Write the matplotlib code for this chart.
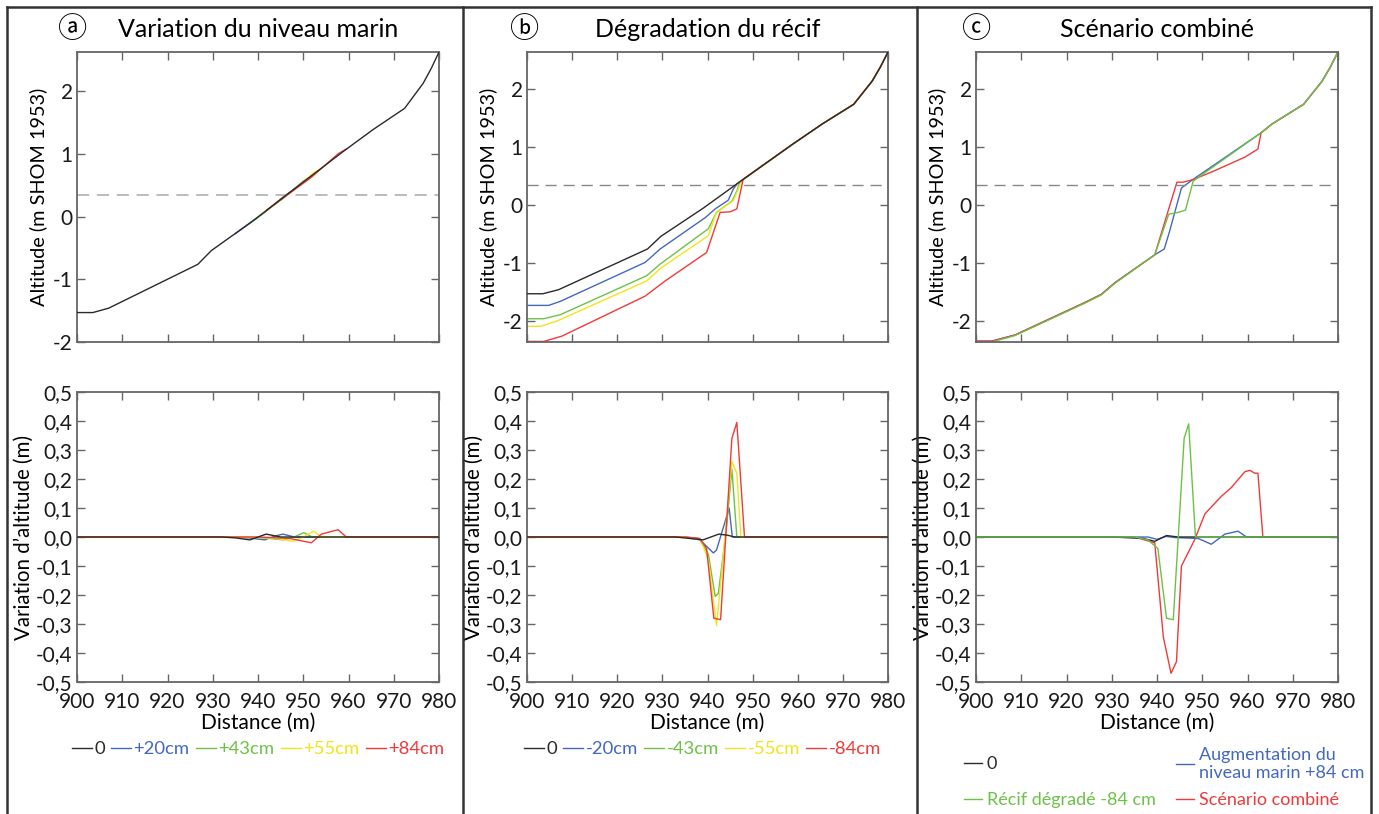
import matplotlib
matplotlib.use("Agg")
import matplotlib.pyplot as plt
from matplotlib.lines import Line2D

plt.rcParams['font.family'] = ['Lato', 'DejaVu Sans']

# ---------------- data ----------------
# Reference profile (panels a & b, black)
BASE_X = [900, 903.5, 907, 926.7, 929.7, 939, 946.5, 958.8, 965.4, 969.1, 972.4, 976.5, 978.3, 980]
BASE_Y = [-1.53, -1.53, -1.46, -0.76, -0.54, -0.06, 0.36, 1.04, 1.39, 1.57, 1.73, 2.13, 2.37, 2.63]
CREST_X = [958.8, 965.4, 969.1, 972.4, 976.5, 978.3, 980]
CREST_Y = [1.04, 1.39, 1.57, 1.73, 2.13, 2.37, 2.63]

# Panel a top: sea-level scenarios (deviate only slightly near the reef flat)
A_P20_X = [935, 941.5, 945.5, 948]
A_P20_Y = [-0.27, 0.07, 0.31, 0.44]
A_P43_X = [938, 945.5, 950.1, 952]
A_P43_Y = [-0.11, 0.29, 0.575, 0.66]
A_P55_X = [940, 947.7, 952.3, 954]
A_P55_Y = [0.0, 0.415, 0.70, 0.77]
A_P84_X = [942, 951.8, 957.7, 959.5]
A_P84_Y = [0.11, 0.63, 1.005, 1.08]

# Panel b top: reef degradation scenarios
B_M20_X = [900, 904.8, 907.4, 926.2, 929.5, 939.5, 941.7, 944.6, 945.7, 946.5]
B_M20_Y = [-1.73, -1.73, -1.66, -0.99, -0.76, -0.22, -0.07, 0.08, 0.27, 0.36]
B_M43_X = [900, 903.7, 907.4, 926.5, 929.5, 940.2, 942, 945.5, 946.5, 947.2]
B_M43_Y = [-1.96, -1.96, -1.89, -1.22, -1.02, -0.41, -0.13, 0.07, 0.24, 0.40]
B_M55_X = [900, 903, 906.6, 926.5, 929.8, 940.2, 942, 945.7, 946.7, 947.6]
B_M55_Y = [-2.09, -2.09, -2.0, -1.31, -1.08, -0.53, -0.12, 0.07, 0.25, 0.42]
B_M84_X = [900, 903.7, 907.7, 926.2, 930.6, 939.8, 942.8, 945, 946.5, 947.9]
B_M84_Y = [-2.35, -2.35, -2.26, -1.57, -1.31, -0.82, -0.13, -0.12, -0.07, 0.44]

# Panel c top: combined scenario
C_LOW_X = [900, 903.5, 908.6, 924.1, 927.7, 930.7, 939.5]
C_LOW_Y = [-2.345, -2.345, -2.24, -1.68, -1.54, -1.34, -0.86]
C_LOW_Y_REEF = [-2.36, -2.36, -2.25, -1.69, -1.55, -1.35, -0.86]
C_UP_X = [963, 965.4, 969.1, 972.4, 976.5, 978.3, 980]
C_UP_Y = [1.24, 1.39, 1.57, 1.73, 2.13, 2.37, 2.63]
C_SEA_X = [941.6, 942.8, 945.4, 948]
C_SEA_Y = [-0.76, -0.45, 0.29, 0.44]
C_REEF_X = [942.6, 944.7, 946.3, 948]
C_REEF_Y = [-0.16, -0.13, -0.09, 0.41]
C_COMB_X = [944.4, 945.8, 948.2, 952.8, 959.4, 962.3]
C_COMB_Y = [0.39, 0.39, 0.44, 0.59, 0.82, 0.96]

WATER_LEVEL = 0.35

# Bottom panels: altitude variation (m)
DA_0_X = [900, 932, 935, 938.2, 941.8, 945, 980]
DA_0_Y = [0, 0, -0.003, -0.01, 0.01, 0, 0]
DA_P20_X = [900, 934, 938, 941.5, 943.5, 945.5, 948, 980]
DA_P20_Y = [0, 0, -0.003, -0.01, 0.002, 0.01, 0, 0]
DA_P43_X = [900, 936, 942, 945.5, 948, 950.1, 952, 980]
DA_P43_Y = [0, 0, -0.004, -0.01, 0, 0.015, 0, 0]
DA_P55_X = [900, 938, 944, 947.7, 950, 952.3, 954, 980]
DA_P55_Y = [0, 0, -0.005, -0.015, 0, 0.02, 0, 0]
DA_P84_X = [900, 940, 947, 951.8, 954, 957.7, 959.5, 980]
DA_P84_Y = [0, 0, -0.005, -0.02, 0.01, 0.025, 0, 0]

DB_0_X = [900, 933, 939, 942.5, 944.5, 946, 980]
DB_0_Y = [0, 0, -0.01, 0.01, 0.006, 0, 0]
DB_M20_X = [900, 935, 938, 941.3, 942, 944.8, 945.5, 980]
DB_M20_Y = [0, 0, -0.005, -0.055, -0.045, 0.10, 0, 0]
DB_M43_X = [900, 935, 938.3, 940.2, 941.7, 942.4, 944.2, 945.4, 946.5, 980]
DB_M43_Y = [0, 0, -0.01, -0.06, -0.205, -0.195, 0.03, 0.235, 0, 0]
DB_M55_X = [900, 935, 938.5, 940.2, 942, 943.1, 945.4, 946.5, 947.4, 980]
DB_M55_Y = [0, 0, -0.01, -0.08, -0.305, -0.13, 0.26, 0.22, 0, 0]
DB_M84_X = [900, 935, 938.3, 939.8, 941.4, 942.9, 945.4, 946.5, 948.2, 980]
DB_M84_Y = [0, 0, -0.005, -0.04, -0.28, -0.285, 0.34, 0.395, 0, 0]

DC_0_X = [900, 930, 937, 939.5, 942.1, 944.7, 980]
DC_0_Y = [0, 0, -0.005, -0.015, 0.005, 0, 0]
DC_SEA_X = [900, 938, 940, 942, 944, 949.1, 952, 955, 957.9, 959.8, 980]
DC_SEA_Y = [0, 0, -0.008, 0.002, -0.002, -0.005, -0.025, 0.01, 0.02, 0, 0]
DC_REEF_X = [900, 935, 938, 940.2, 942.1, 943.6, 946, 947, 948.5, 980]
DC_REEF_Y = [0, 0, -0.01, -0.04, -0.28, -0.285, 0.34, 0.39, 0, 0]
DC_COMB_X = [900, 935, 939.5, 941.4, 943.1, 944.3, 945.4, 948.3, 950.6, 954.2, 956.4,
             959.4, 960.5, 961.6, 962.3, 963.4, 980]
DC_COMB_Y = [0, 0, -0.02, -0.345, -0.47, -0.43, -0.10, -0.01, 0.08, 0.14, 0.17,
             0.225, 0.23, 0.22, 0.22, 0, 0]

X_TICKS = [900, 910, 920, 930, 940, 950, 960, 970, 980]
Y_TICKS_TOP = [-2, -1, 0, 1, 2]
Y_TICKS_DIFF = [-0.5, -0.4, -0.3, -0.2, -0.1, 0.0, 0.1, 0.2, 0.3, 0.4, 0.5]

LEG_A = ['0', '+20cm', '+43cm', '+55cm', '+84cm']
LEG_B = ['0', '-20cm', '-43cm', '-55cm', '-84cm']
LEG_C = ['0', 'Récif dégradé -84 cm', 'Augmentation du\nniveau marin +84 cm', 'Scénario combiné']
TITLES = ['Variation du niveau marin', 'Dégradation du récif', 'Scénario combiné']
LETTERS = ['ⓐ', 'ⓑ', 'ⓒ']

# ---------------- style ----------------
K = '#2a2a2a'
BL = '#4468c0'
GR = '#6cc247'
YE = '#f2e41a'
RD = '#f03a3a'
LW = 1.0

fig = plt.figure(figsize=(13.79, 8.14), dpi=100)
W, H = 1379, 814


def px_axes(x0, y0, x1, y1):
    return fig.add_axes([x0 / W, 1 - y1 / H, (x1 - x0) / W, (y1 - y0) / H])


def style(ax, top):
    ax.set_xlim(900, 980)
    ax.set_xticks(X_TICKS)
    ax.tick_params(direction='in', top=True, right=True, length=6, width=1,
                   color='#666666', labelsize=15, labelcolor='#1a1a1a', pad=3)
    ax.tick_params(axis='x', pad=7)
    for s in ax.spines.values():
        s.set_color('#666666')
        s.set_linewidth(1.3)
    if top:
        ax.tick_params(labelbottom=False)
        ax.set_yticks(Y_TICKS_TOP)
        ax.set_yticklabels([str(v) for v in Y_TICKS_TOP])
        ax.set_ylabel('Altitude (m SHOM 1953)', fontsize=14.3, labelpad=4)
    else:
        ax.set_ylim(-0.5, 0.5)
        ax.set_yticks(Y_TICKS_DIFF)
        ax.set_yticklabels([f'{v:.1f}'.replace('.', ',') for v in Y_TICKS_DIFF])
        ax.set_ylabel('Variation d’altitude (m)', fontsize=14.8, labelpad=2)
        ax.set_xticklabels([str(v) for v in X_TICKS])
        ax.set_xlabel('Distance (m)', fontsize=15, labelpad=1)


cols = [(77, 439), (527, 888), (976, 1338)]
tops = [px_axes(c[0], 52, c[1], 342) for c in cols]
bots = [px_axes(c[0], 392, c[1], 682) for c in cols]

# Panel a top
ax = tops[0]
ax.plot(A_P20_X, A_P20_Y, color=BL, lw=LW)
ax.plot(A_P43_X, A_P43_Y, color=GR, lw=LW)
ax.plot(A_P55_X, A_P55_Y, color=YE, lw=LW)
ax.plot(A_P84_X, A_P84_Y, color=RD, lw=LW)
ax.plot(BASE_X, BASE_Y, color=K, lw=LW, zorder=5)
ax.axhline(WATER_LEVEL, color='#aaaaaa', lw=1.1, dashes=(8, 5))
ax.set_ylim(-2, 2.63)

# Panel b top
ax = tops[1]
ax.plot(B_M20_X + CREST_X, B_M20_Y + CREST_Y, color=BL, lw=LW)
ax.plot(B_M43_X + CREST_X, B_M43_Y + CREST_Y, color=GR, lw=LW)
ax.plot(B_M55_X + CREST_X, B_M55_Y + CREST_Y, color=YE, lw=LW)
ax.plot(B_M84_X + CREST_X, B_M84_Y + CREST_Y, color=RD, lw=LW)
ax.plot(BASE_X, BASE_Y, color=K, lw=LW, zorder=5)
ax.axhline(WATER_LEVEL, color='#888888', lw=1.0, dashes=(8, 5))
ax.set_ylim(-2.36, 2.63)

# Panel c top
ax = tops[2]
ax.plot(C_LOW_X + C_SEA_X + C_UP_X, C_LOW_Y + C_SEA_Y + C_UP_Y, color=BL, lw=LW)
ax.plot(C_LOW_X + C_COMB_X + C_UP_X, C_LOW_Y + C_COMB_Y + C_UP_Y, color=RD, lw=LW)
ax.plot(C_LOW_X + C_REEF_X + C_UP_X, C_LOW_Y_REEF + C_REEF_Y + C_UP_Y, color=GR, lw=LW)
ax.axhline(WATER_LEVEL, color='#888888', lw=1.0, dashes=(8, 5))
ax.set_ylim(-2.36, 2.63)

# Bottom a
ax = bots[0]
ax.plot(DA_0_X, DA_0_Y, color=K, lw=LW, label=LEG_A[0], zorder=4)
ax.plot(DA_P20_X, DA_P20_Y, color=BL, lw=LW, label=LEG_A[1])
ax.plot(DA_P43_X, DA_P43_Y, color=GR, lw=LW, label=LEG_A[2])
ax.plot(DA_P55_X, DA_P55_Y, color=YE, lw=LW, label=LEG_A[3])
ax.plot(DA_P84_X, DA_P84_Y, color=RD, lw=LW, label=LEG_A[4])

# Bottom b
ax = bots[1]
ax.plot(DB_0_X, DB_0_Y, color=K, lw=LW, label=LEG_B[0], zorder=4)
ax.plot(DB_M20_X, DB_M20_Y, color=BL, lw=LW, label=LEG_B[1])
ax.plot(DB_M43_X, DB_M43_Y, color=GR, lw=LW, label=LEG_B[2])
ax.plot(DB_M55_X, DB_M55_Y, color=YE, lw=LW, label=LEG_B[3])
ax.plot(DB_M84_X, DB_M84_Y, color=RD, lw=LW, label=LEG_B[4])

# Bottom c
ax = bots[2]
ax.plot(DC_COMB_X, DC_COMB_Y, color=RD, lw=LW, label=LEG_C[3])
ax.plot(DC_SEA_X, DC_SEA_Y, color=BL, lw=LW, label=LEG_C[2])
ax.plot(DC_0_X, DC_0_Y, color=K, lw=LW, label=LEG_C[0])
ax.plot(DC_REEF_X, DC_REEF_Y, color=GR, lw=LW, label=LEG_C[1])

for a in tops:
    style(a, True)
for a in bots:
    style(a, False)

# Titles and panel letters
for i, a in enumerate(tops):
    a.set_title(TITLES[i], fontsize=18, pad=11)
letter_x = [73, 525, 977]
for i, lx in enumerate(letter_x):
    fig.text(lx / W, 1 - 30 / H, LETTERS[i], fontsize=21, ha='center', va='center',
             family=['Noto Sans CJK JP', 'DejaVu Sans'])

# Legends (a, b): one row under each panel
leg_x = [72, 524]
for i, a in enumerate(bots[:2]):
    h, l = a.get_legend_handles_labels()
    fig.legend(h, l, loc='center left', bbox_to_anchor=(leg_x[i] / W, 1 - 749 / H), ncol=5,
               frameon=False, handlelength=1.08, handletextpad=0.12, columnspacing=0.35,
               labelcolor='linecolor', fontsize=13.3, borderpad=0, borderaxespad=0)

# Legend (c): 2 x 2 grid
h, l = bots[2].get_legend_handles_labels()
c_pos = {LEG_C[0]: (964, 764), LEG_C[1]: (964, 800), LEG_C[2]: (1176, 764), LEG_C[3]: (1176, 800)}
for lab, (px, py) in c_pos.items():
    j = l.index(lab)
    fig.legend([h[j]], [lab], loc='center left', bbox_to_anchor=(px / W, 1 - py / H),
               frameon=False, handlelength=1.0, handletextpad=0.25, labelspacing=0.15,
               labelcolor='linecolor', fontsize=13, borderpad=0, borderaxespad=0)

# Panel frames
for xv in [7, 463, 917, 1371]:
    fig.add_artist(Line2D([xv / W, xv / W], [0, 1 - 7 / H], transform=fig.transFigure,
                          color='#333333', lw=1.8))
fig.add_artist(Line2D([7 / W, 1371 / W], [1 - 7 / H, 1 - 7 / H], transform=fig.transFigure,
                      color='#333333', lw=1.8))

fig.savefig('out.png', dpi=100, facecolor='white')
